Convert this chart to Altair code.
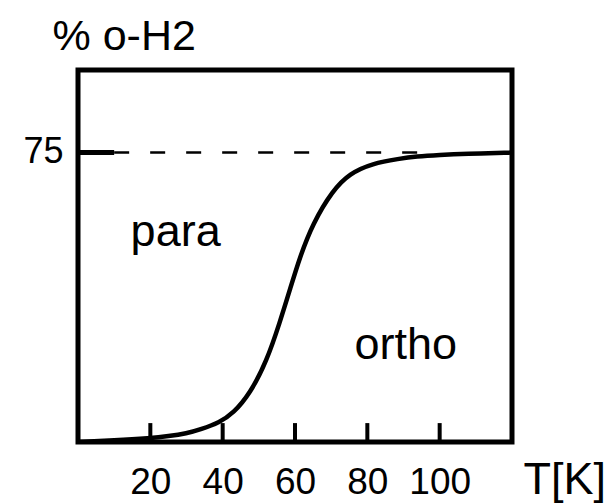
import altair as alt
import pandas as pd

FONT = '"Liberation Sans Narrow", "Liberation Sans", Arial, sans-serif'

# curve: equilibrium ortho-H2 fraction vs temperature
temps = [0, 10, 20, 25, 30, 34, 39, 43, 47.6, 52.2, 55.8, 58.6, 61.3, 64.9, 70.4, 75.1, 81.4, 88.8, 93.5, 100, 107, 120]
ortho_pct = [0, 0.4, 1.0, 1.5, 2.2, 3.3, 5.0, 7.5, 12.6, 21.0, 31.0, 39.5, 47.8, 56.6, 65.2, 69.6, 72.2, 73.4, 74.0, 74.4, 74.7, 75.0]

x_ticks = [20, 40, 60, 80, 100]
y_ticks = [75]

label_texts = ["para", "ortho"]
label_T = [27, 90.6]
label_y = [50.9, 21.6]

curve_df = pd.DataFrame({"T": temps, "pct": ortho_pct})
tick_df = pd.DataFrame({"T": x_ticks, "y0": [0] * len(x_ticks), "y1": [4.9] * len(x_ticks)})
solid_df = pd.DataFrame({"x0": [0], "x1": [10], "y": y_ticks})
dash_df = pd.DataFrame({"x0": [10], "x1": [94], "y": y_ticks})
lab_df = pd.DataFrame({"text": label_texts, "T": label_T, "y": label_y})

xscale = alt.Scale(domain=[0, 120], nice=False, zero=False)
yscale = alt.Scale(domain=[0, 96.4], nice=False, zero=False)

x_axis = alt.Axis(
    values=x_ticks, ticks=False, tickSize=0, domain=False, grid=False,
    labelFont=FONT, labelFontSize=37, labelColor="black", labelBaseline="alphabetic",
    labelPadding=51, labelFlush=False,
    title="T[K]", titleFont=FONT, titleFontSize=45, titleFontWeight="normal",
    titleColor="black", titleAlign="left", titleBaseline="alphabetic",
    titleX=445, titleY=51,
)
y_axis = alt.Axis(
    values=y_ticks, ticks=False, tickSize=0, domain=False, grid=False,
    labelFont=FONT, labelFontSize=36, labelColor="black", labelBaseline="alphabetic",
    labelPadding=15, labelOffset=10,
    title="% o-H2", titleFont=FONT, titleFontSize=43, titleFontWeight="normal",
    titleColor="black", titleAngle=0, titleAlign="left", titleBaseline="alphabetic",
    titleX=-26, titleY=-21,
)

curve = alt.Chart(curve_df).mark_line(
    color="black", strokeWidth=4.5, interpolate="basis", clip=True
).encode(
    x=alt.X("T:Q", scale=xscale, axis=x_axis),
    y=alt.Y("pct:Q", scale=yscale, axis=y_axis),
)

ticks = alt.Chart(tick_df).mark_rule(color="black", strokeWidth=4).encode(
    x=alt.X("T:Q", scale=xscale),
    y=alt.Y("y0:Q", scale=yscale),
    y2="y1:Q",
)

solid = alt.Chart(solid_df).mark_rule(color="black", strokeWidth=5).encode(
    x=alt.X("x0:Q", scale=xscale), x2="x1:Q", y=alt.Y("y:Q", scale=yscale)
)

dashed = alt.Chart(dash_df).mark_rule(
    color="black", strokeWidth=2.5, strokeDash=[15, 21]
).encode(
    x=alt.X("x0:Q", scale=xscale), x2="x1:Q", y=alt.Y("y:Q", scale=yscale)
)

labels = alt.Chart(lab_df).mark_text(
    font=FONT, fontSize=45, color="black", align="center", baseline="alphabetic"
).encode(
    x=alt.X("T:Q", scale=xscale),
    y=alt.Y("y:Q", scale=yscale),
    text="text:N",
)

chart = alt.layer(dashed, solid, ticks, curve, labels).properties(
    width=434, height=372,
    autosize=alt.AutoSizeParams(type="none"),
    padding={"left": 78, "top": 70, "right": 99, "bottom": 61},
    background="white",
).configure_view(
    stroke="black", strokeWidth=5
)

chart.save("out.html", embed_options={"renderer": "svg", "actions": False})
